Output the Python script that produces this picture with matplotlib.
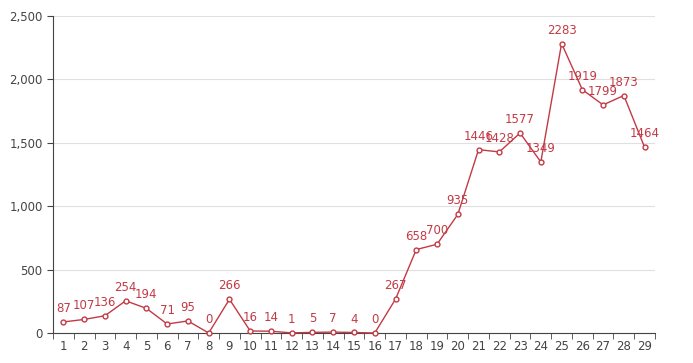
import matplotlib
matplotlib.use("Agg")
import matplotlib.pyplot as plt
from matplotlib.ticker import FuncFormatter, FixedLocator
import numpy as np

days = [str(i) for i in range(1, 30)]
counts = [87, 107, 136, 254, 194, 71, 95, 0, 266, 16, 14, 1, 5, 7, 4, 0,
          267, 658, 700, 935, 1446, 1428, 1577, 1349, 2283, 1919, 1799, 1873, 1464]

RED = "#c23a45"
AXIS = "#444444"

fig = plt.figure(figsize=(6.93, 3.63), dpi=100)
ax = fig.add_axes([53 / 693, 30 / 363, 602 / 693, 317 / 363])

x = np.arange(len(days))
ax.plot(x, counts, color=RED, lw=1, marker="o", ms=3.5, mfc="white",
        mec=RED, mew=1, zorder=3, clip_on=False)
for xi, v in zip(x, counts):
    ax.annotate(str(v), (xi, v), textcoords="offset points", xytext=(0, 5),
                ha="center", va="bottom", fontsize=8.5, color=RED)

ax.set_xlim(-0.5, len(days) - 0.5)
ax.set_ylim(0, 2500)
ax.set_yticks([0, 500, 1000, 1500, 2000, 2500])
ax.yaxis.set_major_formatter(FuncFormatter(lambda v, p: f"{int(v):,}"))
ax.grid(axis="y", color="#e0e0e0", lw=0.8)
ax.set_axisbelow(True)

ax.set_xticks(x, days)
ax.xaxis.set_minor_locator(FixedLocator(np.arange(-0.5, len(days), 1)))
ax.tick_params(axis="x", which="major", length=0, pad=5, labelsize=8.5, labelcolor=AXIS)
ax.tick_params(axis="x", which="minor", length=4, color=AXIS, direction="out")
ax.tick_params(axis="y", length=4, color=AXIS, labelsize=8.5, labelcolor=AXIS)

for s in ["top", "right"]:
    ax.spines[s].set_visible(False)
ax.spines["left"].set_color(AXIS)
ax.spines["bottom"].set_color(AXIS)

fig.savefig("out.png", dpi=100)
